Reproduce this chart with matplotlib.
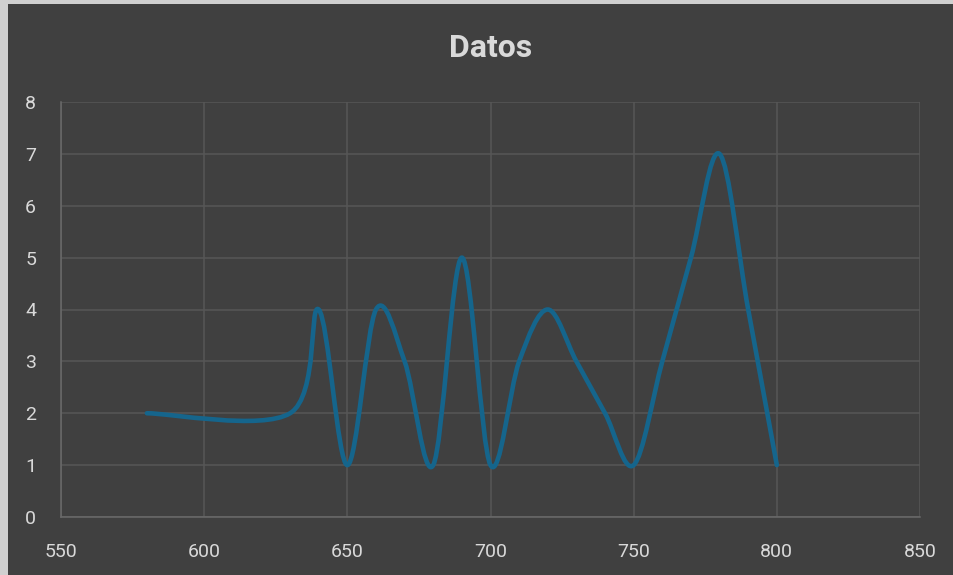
import numpy as np
import matplotlib
matplotlib.use("Agg")
import matplotlib.pyplot as plt
from matplotlib.path import Path
from matplotlib.patches import PathPatch, Rectangle

# data
x_vals = [580, 630, 640, 650, 660, 670, 680, 690, 700, 710,
          720, 730, 740, 750, 760, 770, 780, 790, 800]
y_vals = [2, 2, 4, 1, 4, 3, 1, 5, 1, 3,
          4, 3, 2, 1, 3, 5, 7, 4, 1]
x_ticks = [550, 600, 650, 700, 750, 800, 850]
y_ticks = [0, 1, 2, 3, 4, 5, 6, 7, 8]
title = "Datos"

BG = "#404040"
TXT = "#d9d9d9"
GRID = "#575757"
LINE = "#15658c"


def smooth_path(xs, ys):
    # Excel-like smoothed line: cubic Bezier, control points from neighbours / 6
    pts = np.column_stack([xs, ys]).astype(float)
    n = len(pts)
    verts = [pts[0]]
    codes = [Path.MOVETO]
    for i in range(n - 1):
        p_prev = pts[i - 1] if i > 0 else pts[i]
        p_next2 = pts[i + 2] if i + 2 < n else pts[i + 1]
        c1 = pts[i] + (pts[i + 1] - p_prev) / 6.0
        c2 = pts[i + 1] - (p_next2 - pts[i]) / 6.0
        verts += [c1, c2, pts[i + 1]]
        codes += [Path.CURVE4] * 3
    return Path(verts, codes)


plt.rcParams["font.family"] = ["Roboto", "DejaVu Sans"]

fig = plt.figure(figsize=(9.54, 5.75), dpi=100)
fig.patch.set_facecolor(BG)
# light frame strips on the top/left edge
fig.patches.append(Rectangle((0, 0), 8 / 954, 1, transform=fig.transFigure,
                             facecolor="#d0d0d0", edgecolor="none"))
fig.patches.append(Rectangle((0, 1 - 4 / 575), 1, 4 / 575, transform=fig.transFigure,
                             facecolor="#d0d0d0", edgecolor="none"))

ax = fig.add_axes([61 / 954, 1 - 517 / 575, (920 - 61) / 954, (517 - 102) / 575])
ax.set_facecolor(BG)

ax.add_patch(PathPatch(smooth_path(x_vals, y_vals), facecolor="none",
                       edgecolor=LINE, linewidth=3.3, capstyle="round",
                       joinstyle="round", zorder=3))

ax.set_xlim(x_ticks[0], x_ticks[-1])
ax.set_ylim(y_ticks[0], y_ticks[-1])
ax.set_xticks(x_ticks)
ax.set_yticks(y_ticks)
ax.grid(True, color=GRID, linewidth=1.1)
ax.set_axisbelow(True)

for side in ["top", "right"]:
    ax.spines[side].set_visible(False)
for side in ["left", "bottom"]:
    ax.spines[side].set_color("#6a6a6a")
    ax.spines[side].set_linewidth(1.1)

ax.tick_params(axis="both", length=0, colors=TXT, labelsize=14)
ax.tick_params(axis="y", pad=18)
ax.tick_params(axis="x", pad=19)

fig.text((61 + 920) / 2 / 954, 1 - 48 / 575, title, ha="center", va="center",
         color=TXT, fontsize=23, fontweight="bold")

fig.savefig("out.png", dpi=100, facecolor=fig.get_facecolor())
